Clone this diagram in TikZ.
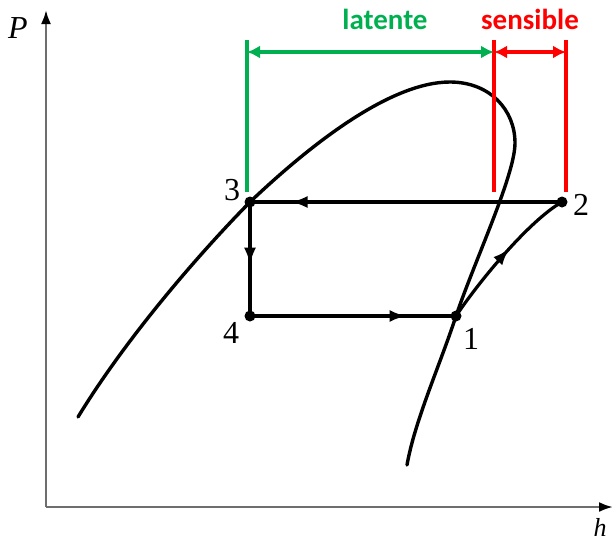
\documentclass[tikz,border=0pt]{standalone}
\usepackage{fontspec}
\setmainfont{Liberation Serif}
\newfontfamily\labfont{Carlito}
\usetikzlibrary{arrows.meta,decorations.markings}
\definecolor{dimgreen}{RGB}{0,176,80}
\definecolor{dimred}{RGB}{255,0,0}
\definecolor{axisgray}{RGB}{110,110,110}
\begin{document}
\begin{tikzpicture}[x=1pt,y=-1pt,
  dome/.style={line width=3.4pt,line cap=round},
  cyc/.style={line width=3.2pt},
  dot/.style={circle,fill=black,inner sep=0pt,minimum size=11pt},
  midarrow/.style={postaction={decorate},decoration={markings,mark=at position #1 with {\arrow{Latex[length=17pt,width=12pt]}}}},
  axisline/.style={draw=axisgray,line width=2.4pt,-{Latex[length=14pt,width=10pt,color=black]}},
  numlab/.style={font=\fontsize{32}{32}\selectfont},
  axlab/.style={font=\fontsize{32}{32}\selectfont\itshape},
  dimlab/.style={font=\fontsize{29}{29}\selectfont\labfont\bfseries,anchor=base},
  dimline/.style={line width=3.2pt},
  dimarrow/.style={line width=3.2pt,{Latex[length=13pt,width=13pt]}-{Latex[length=13pt,width=13pt]}}
]
\useasboundingbox (0,0) rectangle (614,542);
% axes
\coordinate (o) at (46,507);
\coordinate (ytop) at (46,10);
\coordinate (xend) at (613,507);
\draw[axisline] (o) -- (ytop);
\draw[axisline] (o) -- (xend);
\node[axlab] (P) at (18,28) {P};
\node[font=\fontsize{26}{26}\selectfont\itshape,anchor=base,inner sep=0pt] (h) at (600,536) {h};
% saturation dome
\draw[dome] (78,417) .. controls (125,340) and (195,258) .. (250,202)
  .. controls (310,145) and (390,82) .. (450,82)
  .. controls (490,82) and (515,110) .. (515,143)
  .. controls (515,175) and (475,260) .. (456,316)
  .. controls (440,365) and (415,420) .. (407,465);
% cycle points
\node[dot] (p3) at (250,202) {};
\node[dot] (p2) at (562,202) {};
\node[dot] (p4) at (250,316) {};
\node[dot] (p1) at (456,316) {};
\node[numlab] (l3) at (232,190) {3};
\node[numlab] (l2) at (581,205) {2};
\node[numlab] (l4) at (231,333) {4};
\node[numlab] (l1) at (471,339) {1};
% cycle
\draw[cyc,midarrow=0.87] (p2.center) -- (p3.center);
\draw[cyc,midarrow=0.55] (p3.center) -- (p4.center);
\draw[cyc,midarrow=0.76] (p4.center) -- (p1.center);
\draw[cyc,midarrow=0.55] (p1.center) .. controls (480,280) and (530,220) .. (p2.center);
% dimension lines
\coordinate (g0) at (247,40);
\coordinate (g1) at (247,192);
\coordinate (r0) at (494,40);
\coordinate (r1) at (494,192);
\coordinate (s0) at (566,40);
\coordinate (s1) at (566,192);
\coordinate (ga) at (247,52);
\coordinate (gb) at (494,52);
\coordinate (ra) at (494,52);
\coordinate (rb) at (566,52);
\draw[dimline,dimgreen] (g0) -- (g1);
\draw[dimline,dimred] (r0) -- (r1);
\draw[dimline,dimred] (s0) -- (s1);
\draw[dimarrow,dimgreen] (ga) -- (gb);
\draw[dimarrow,dimred] (ra) -- (rb);
\node[dimlab,text=dimgreen] (lat) at (385,29) {latente};
\node[dimlab,text=dimred] (sen) at (530,29) {sensible};
\end{tikzpicture}
\end{document}
